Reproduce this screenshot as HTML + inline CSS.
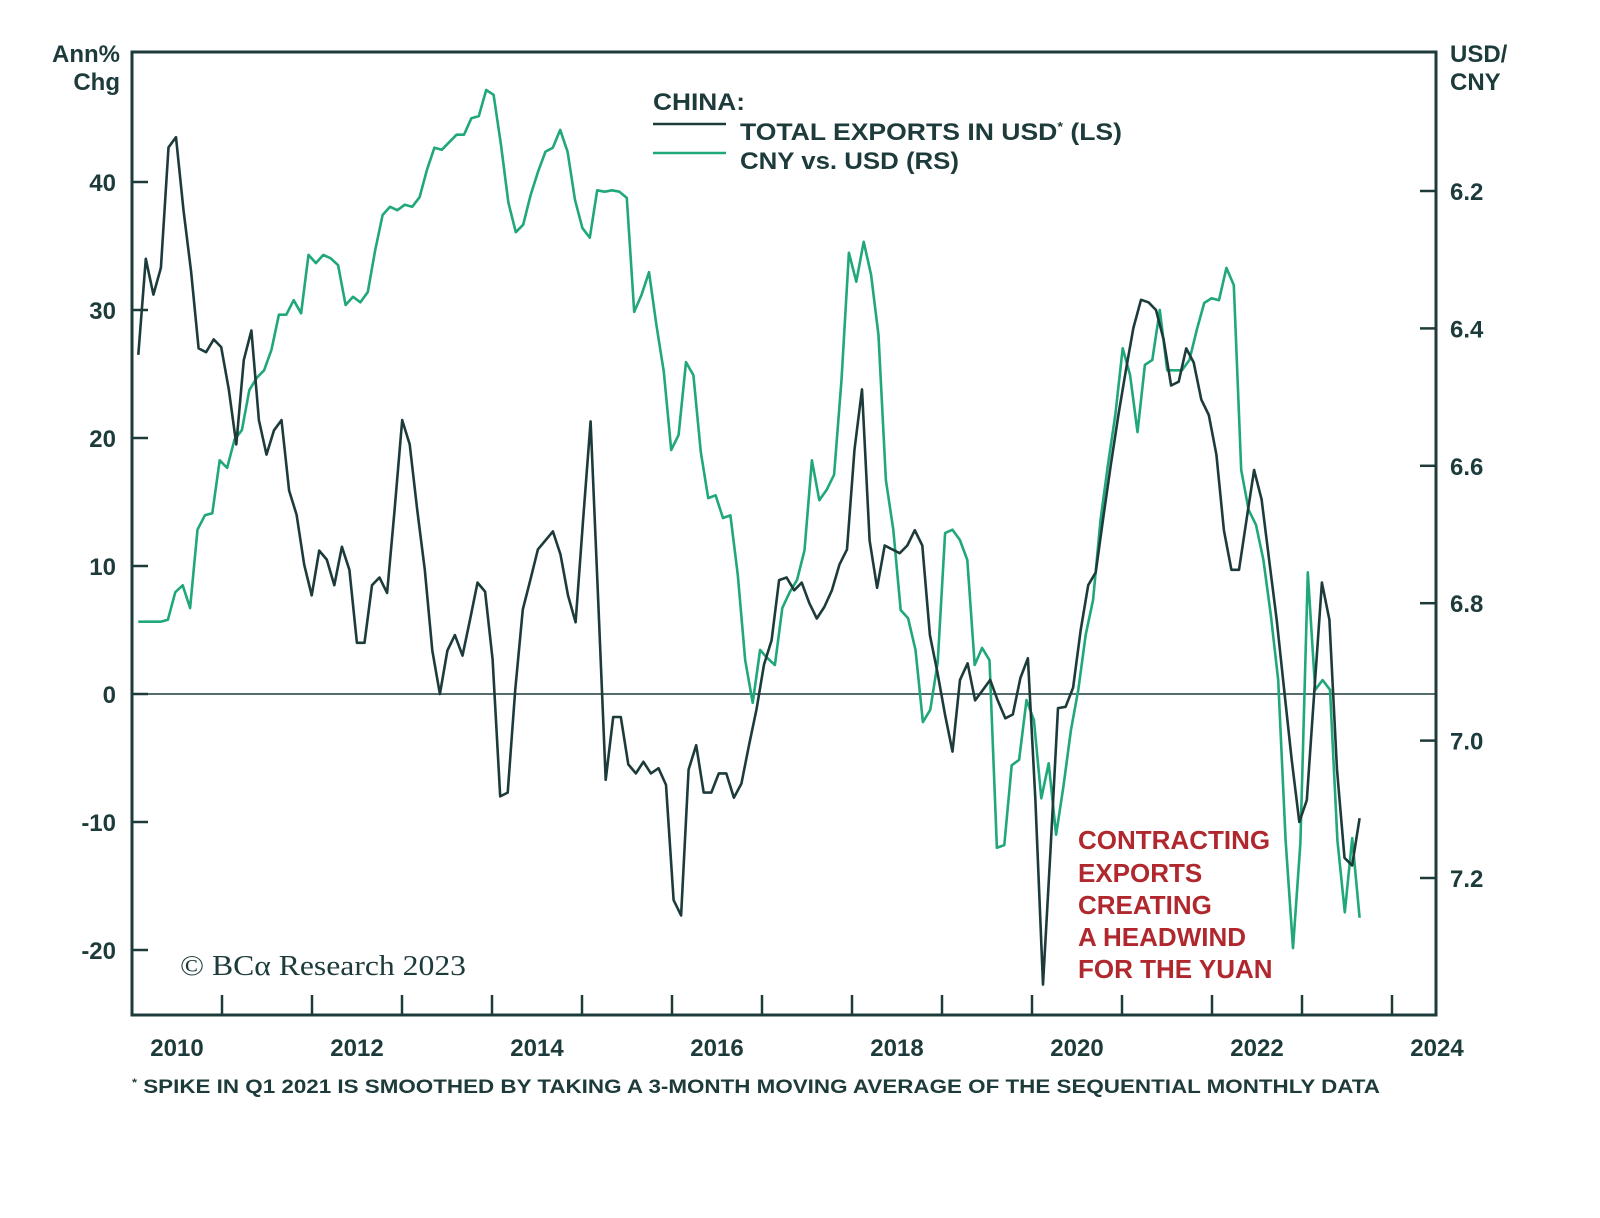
<!DOCTYPE html>
<html><head><meta charset="utf-8"><style>
body{margin:0;background:#fff;}
svg{display:block;font-family:"Liberation Sans",sans-serif;}
</style></head><body>
<svg id="chart" width="1600" height="1218" viewBox="0 0 1600 1218" xmlns="http://www.w3.org/2000/svg">
<rect x="132" y="52" width="1304" height="963" fill="none" stroke="#1d3b3b" stroke-width="3"/>
<g id="axes"></g>
<g id="series"></g>
<g fill="#1d3b3b" font-weight="bold" font-size="24" text-anchor="end">
<text x="120" y="62">Ann%</text><text x="120" y="90">Chg</text></g>
<g fill="#1d3b3b" font-weight="bold" font-size="24">
<text x="1450" y="62">USD/</text><text x="1450" y="90">CNY</text></g>
<g fill="#1d3b3b" font-weight="bold" font-size="24">
<text x="653" y="110" textLength="92" lengthAdjust="spacingAndGlyphs">CHINA:</text>
<line x1="653" y1="124" x2="726" y2="124" stroke="#1d3b3b" stroke-width="2.5"/>
<text x="740" y="140" textLength="382" lengthAdjust="spacingAndGlyphs">TOTAL EXPORTS IN USD<tspan font-size="13" dy="-9">*</tspan><tspan dy="9"> (LS)</tspan></text>
<line x1="653" y1="153" x2="726" y2="153" stroke="#20a77a" stroke-width="2.5"/>
<text x="740" y="169" textLength="219" lengthAdjust="spacingAndGlyphs">CNY vs. USD (RS)</text>
</g>
<g fill="#b0282e" font-weight="bold" font-size="26">
<text x="1078" y="849">CONTRACTING</text><text x="1078" y="882">EXPORTS</text><text x="1078" y="914">CREATING</text><text x="1078" y="946">A HEADWIND</text><text x="1078" y="978">FOR THE YUAN</text></g>
<text x="180" y="975" font-family="Liberation Serif,serif" font-size="28" fill="#1d3b3b" textLength="286" lengthAdjust="spacingAndGlyphs">© BCα Research 2023</text>
<text x="132" y="1093" font-size="19" font-weight="bold" fill="#1d3b3b" textLength="1248" lengthAdjust="spacingAndGlyphs"><tspan font-size="11" dy="-7">*</tspan><tspan dy="7"> SPIKE IN Q1 2021 IS SMOOTHED BY TAKING A 3-MONTH MOVING AVERAGE OF THE SEQUENTIAL MONTHLY DATA</tspan></text>
</svg>
<script>
const leftTicks=[-20,-10,0,10,20,30,40];
const rightTicks=[6.2,6.4,6.6,6.8,7.0,7.2];
const yearLabels=[2010,2012,2014,2016,2018,2020,2022,2024];
const seriesStart=2010.07, seriesEnd=2023.64;
const exportsValues=[26.5,34,31.2,33.3,42.7,43.5,37.8,33,27,26.7,27.7,27.1,23.8,19.5,26.1,28.4,21.4,18.7,20.6,21.4,15.9,14,10.1,7.7,11.2,10.5,8.5,11.5,9.7,4,4,8.5,9.1,7.9,14.4,21.4,19.5,14.4,9.7,3.4,0,3.4,4.6,3.0,5.8,8.7,8,2.7,-8,-7.7,0.3,6.6,8.9,11.3,12,12.7,10.9,7.7,5.6,13.6,21.3,7.3,-6.7,-1.8,-1.8,-5.5,-6.2,-5.3,-6.2,-5.8,-7.1,-16.1,-17.3,-5.9,-4,-7.7,-7.7,-6.2,-6.2,-8.1,-7,-4,-1.2,2.3,4.2,8.9,9.1,8.1,8.7,7.1,5.9,6.8,8.1,10.1,11.3,19.1,23.8,12,8.3,11.6,11.3,11,11.6,12.8,11.6,4.6,1.7,-1.6,-4.5,1.1,2.4,-0.5,0.3,1.1,-0.5,-1.9,-1.6,1.25,2.8,-8.3,-22.7,-12.2,-1.1,-1,0.5,5,8.5,9.5,13.8,17.9,21.8,25.3,28.6,30.8,30.6,30,27.7,24.1,24.4,27,25.9,23,21.8,18.7,12.8,9.7,9.7,13.6,17.5,15.2,10.5,5.8,0.3,-5.2,-10,-8.3,0.3,8.7,5.8,-5.9,-12.8,-13.4,-9.7];
const cnyValues=[6.827,6.827,6.827,6.827,6.824,6.784,6.774,6.807,6.693,6.672,6.669,6.592,6.603,6.562,6.548,6.490,6.472,6.461,6.431,6.380,6.380,6.359,6.378,6.293,6.305,6.293,6.298,6.308,6.366,6.354,6.362,6.347,6.286,6.235,6.223,6.228,6.220,6.223,6.209,6.169,6.137,6.140,6.129,6.118,6.118,6.094,6.091,6.053,6.060,6.133,6.217,6.260,6.249,6.206,6.172,6.143,6.137,6.111,6.143,6.213,6.254,6.268,6.199,6.201,6.199,6.201,6.210,6.376,6.351,6.318,6.395,6.463,6.577,6.555,6.449,6.468,6.580,6.647,6.643,6.676,6.672,6.759,6.883,6.945,6.868,6.880,6.890,6.807,6.784,6.766,6.723,6.592,6.650,6.635,6.613,6.475,6.290,6.332,6.274,6.322,6.410,6.621,6.693,6.810,6.822,6.868,6.973,6.955,6.886,6.698,6.693,6.708,6.737,6.890,6.865,6.883,7.156,7.152,7.036,7.028,6.941,6.970,7.084,7.033,7.137,7.066,6.985,6.926,6.846,6.795,6.679,6.599,6.526,6.429,6.468,6.551,6.453,6.446,6.373,6.461,6.461,6.461,6.446,6.402,6.363,6.356,6.359,6.312,6.337,6.606,6.664,6.686,6.737,6.817,6.912,7.145,7.302,7.149,6.755,6.926,6.912,6.926,7.145,7.250,7.142,7.258];
const NS="http://www.w3.org/2000/svg";
const L=132,R=1436,T=52,B=1015;
function xS(t){return L+(t-2010)*90;}
function yL(v){return 694-v*12.8;}
function yR(v){return 191+(v-6.2)*687;}
const axes=document.getElementById('axes'),series=document.getElementById('series');
function mk(tag,attrs,parent,text){const e=document.createElementNS(NS,tag);for(const k in attrs)e.setAttribute(k,attrs[k]);if(text!==undefined)e.textContent=text;parent.appendChild(e);return e;}
const zl=mk('line',{x1:L,x2:R,y1:yL(0),y2:yL(0),stroke:'#1d3b3b','stroke-width':1.5},axes);


leftTicks.forEach(v=>{
  const tk=mk('line',{x1:L,x2:L+16,y1:yL(v),y2:yL(v),stroke:'#1d3b3b','stroke-width':2.5},axes);
  
  
  const tx=mk('text',{x:116,y:yL(v)+9,'text-anchor':'end','font-size':24,'font-weight':'bold',fill:'#1d3b3b'},axes,String(v));
  
  
});
rightTicks.forEach(v=>{
  const tk=mk('line',{x1:R-16,x2:R,y1:yR(v),y2:yR(v),stroke:'#1d3b3b','stroke-width':2.5},axes);
  
  
  const tx=mk('text',{x:1450,y:yR(v)+9,'font-size':24,'font-weight':'bold',fill:'#1d3b3b'},axes,v.toFixed(1));
  
  
});
for(let y=2011;y<=2024;y++){
  const tk=mk('line',{x1:xS(y),x2:xS(y),y1:B,y2:B-20,stroke:'#1d3b3b','stroke-width':2.5},axes);
  
  
}
yearLabels.forEach(y=>{
  const tx=mk('text',{x:xS(y+0.5),y:1056,'text-anchor':'middle','font-size':24,'font-weight':'bold',fill:'#1d3b3b'},axes,String(y));
  
  
});
function pathFor(vals,yf){
  const n=vals.length;
  return vals.map((v,i)=>{const t=seriesStart+i*(seriesEnd-seriesStart)/(n-1);return (i?'L':'M')+xS(t).toFixed(1)+','+yf(v).toFixed(1);}).join('');
}
const pc=mk('path',{d:pathFor(cnyValues,yR),fill:'none',stroke:'#20a77a','stroke-width':2.6,'stroke-linejoin':'round'},series);


const pe=mk('path',{d:pathFor(exportsValues,yL),fill:'none',stroke:'#1d3b3b','stroke-width':2.6,'stroke-linejoin':'round'},series);


</script>
</body></html>
